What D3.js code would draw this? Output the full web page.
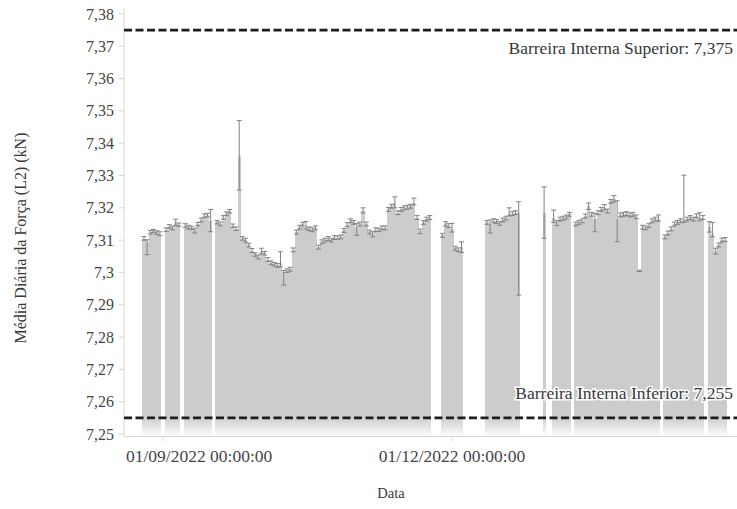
<!DOCTYPE html>
<html>
<head>
<meta charset="utf-8">
<script src="https://cdn.jsdelivr.net/npm/d3@7"></script>
<style>
  body { margin: 0; background: #fff; }
  svg { display: block; }
  text { font-family: "Liberation Serif", "Times New Roman", serif; }
</style>
</head>
<body>
<svg id="chart" width="737" height="509"></svg>
<script>
// Daily mean of the L2 force, with the daily low/high of each day (null = no data)
const firstDay = "2022-08-26";

const means = [
  7.3105, 7.3095, 7.3125, 7.3128, 7.3124, 7.3120, null,   7.3132, 7.3142, 7.3138,
  7.3152, 7.3148, null,   7.3145, 7.3140, 7.3138, 7.3130, 7.3150, 7.3162, 7.3175,
  7.3178, 7.3160, null,   7.3155, 7.3150, 7.3170, 7.3182, 7.3190, 7.3145, 7.3135,
  7.3360, 7.3105, 7.3100, 7.3085, 7.3068, 7.3056, 7.3048, 7.3065, 7.3060, 7.3040,
  7.3030, 7.3025, 7.3022, 7.3030, 7.3000, 7.3005, 7.3010, 7.3070, 7.3125, 7.3140,
  7.3150, 7.3140, 7.3135, 7.3132, 7.3138, 7.3078, 7.3095, 7.3100, 7.3105, 7.3100,
  7.3108, 7.3108, 7.3110, 7.3130, 7.3148, 7.3160, 7.3155, 7.3140, 7.3150, 7.3190,
  7.3150, 7.3125, 7.3120, 7.3132, 7.3132, 7.3138, 7.3138, 7.3195, 7.3205, 7.3215,
  7.3185, 7.3195, 7.3200, 7.3202, 7.3205, 7.3215, 7.3170, 7.3128, 7.3155, 7.3165,
  7.3170, null,   null,   null,   7.3115, 7.3150, 7.3145, 7.3135, 7.3075, 7.3070,
  7.3078, null,   null,   null,   null,   null,   null,   null,   7.3155, 7.3150,
  7.3160, 7.3158, 7.3152, 7.3162, 7.3168, 7.3185, 7.3182, 7.3185, 7.3185, null,
  null,   null,   null,   null,   null,   null,   7.3185, null,   null,   7.3170,
  7.3155, 7.3165, 7.3168, 7.3172, 7.3180, null,   7.3150, 7.3155, 7.3160, 7.3175,
  7.3205, 7.3180, 7.3165, 7.3185, 7.3195, 7.3200, 7.3190, 7.3220, 7.3228, 7.3165,
  7.3178, 7.3180, 7.3182, 7.3178, 7.3180, 7.3172, 7.3005, 7.3140, 7.3138, 7.3145,
  7.3160, 7.3165, 7.3165, null,   7.3110, 7.3122, 7.3135, 7.3150, 7.3155, 7.3160,
  7.3162, 7.3165, 7.3170, 7.3165, 7.3175, 7.3168, 7.3170, null,   7.3140, 7.3120,
  7.3065, 7.3085, 7.3100, 7.3102
];

const lows = [
  7.3100, 7.3055, 7.3119, 7.3123, 7.3118, 7.3114, null,   7.3127, 7.3137, 7.3132,
  7.3146, 7.3143, null,   7.3140, 7.3134, 7.3133, 7.3122, 7.3144, 7.3156, 7.3170,
  7.3172, 7.3126, null,   7.3150, 7.3144, 7.3165, 7.3176, 7.3184, 7.3139, 7.3130,
  7.3255, 7.3100, 7.3094, 7.3079, 7.3062, 7.3050, 7.3042, 7.3058, 7.3054, 7.3034,
  7.3024, 7.3020, 7.3016, 7.3017, 7.2961, 7.3000, 7.3004, 7.3064, 7.3119, 7.3134,
  7.3144, 7.3134, 7.3129, 7.3126, 7.3132, 7.3072, 7.3089, 7.3094, 7.3099, 7.3094,
  7.3102, 7.3103, 7.3104, 7.3124, 7.3142, 7.3154, 7.3149, 7.3115, 7.3144, 7.3184,
  7.3144, 7.3119, 7.3110, 7.3126, 7.3127, 7.3132, 7.3132, 7.3189, 7.3199, 7.3200,
  7.3179, 7.3189, 7.3194, 7.3196, 7.3199, 7.3209, 7.3164, 7.3120, 7.3149, 7.3159,
  7.3164, null,   null,   null,   7.3109, 7.3144, 7.3139, 7.3125, 7.3069, 7.3064,
  7.3062, null,   null,   null,   null,   null,   null,   null,   7.3149, 7.3122,
  7.3154, 7.3152, 7.3146, 7.3156, 7.3162, 7.3175, 7.3176, 7.3179, 7.2930, null,
  null,   null,   null,   null,   null,   null,   7.3106, null,   null,   7.3155,
  7.3145, 7.3159, 7.3162, 7.3166, 7.3174, null,   7.3144, 7.3149, 7.3154, 7.3169,
  7.3195, 7.3174, 7.3126, 7.3179, 7.3189, 7.3194, 7.3184, 7.3214, 7.3218, 7.3095,
  7.3172, 7.3174, 7.3176, 7.3172, 7.3174, 7.3166, 7.3003, 7.3134, 7.3132, 7.3139,
  7.3154, 7.3159, 7.3159, null,   7.3104, 7.3116, 7.3129, 7.3144, 7.3149, 7.3154,
  7.3155, 7.3159, 7.3164, 7.3159, 7.3169, 7.3160, 7.3164, null,   7.3125, 7.3110,
  7.3057, 7.3079, 7.3094, 7.3096
];

const highs = [
  7.3111, 7.3101, 7.3130, 7.3133, 7.3129, 7.3126, null,   7.3138, 7.3148, 7.3143,
  7.3165, 7.3153, null,   7.3151, 7.3146, 7.3143, 7.3137, 7.3155, 7.3168, 7.3181,
  7.3183, 7.3195, null,   7.3161, 7.3156, 7.3176, 7.3187, 7.3195, 7.3150, 7.3141,
  7.3470, 7.3111, 7.3106, 7.3090, 7.3074, 7.3061, 7.3054, 7.3075, 7.3065, 7.3046,
  7.3036, 7.3031, 7.3028, 7.3064, 7.3006, 7.3011, 7.3016, 7.3076, 7.3131, 7.3146,
  7.3155, 7.3158, 7.3141, 7.3138, 7.3144, 7.3084, 7.3101, 7.3106, 7.3111, 7.3106,
  7.3114, 7.3113, 7.3116, 7.3136, 7.3154, 7.3166, 7.3161, 7.3152, 7.3156, 7.3200,
  7.3156, 7.3131, 7.3126, 7.3138, 7.3137, 7.3144, 7.3144, 7.3201, 7.3211, 7.3234,
  7.3191, 7.3201, 7.3206, 7.3208, 7.3211, 7.3230, 7.3176, 7.3134, 7.3161, 7.3171,
  7.3176, null,   null,   null,   7.3121, 7.3157, 7.3151, 7.3152, 7.3081, 7.3076,
  7.3095, null,   null,   null,   null,   null,   null,   null,   7.3161, 7.3162,
  7.3166, 7.3164, 7.3158, 7.3168, 7.3174, 7.3200, 7.3188, 7.3191, 7.3219, null,
  null,   null,   null,   null,   null,   null,   7.3265, null,   null,   7.3193,
  7.3161, 7.3171, 7.3174, 7.3178, 7.3186, null,   7.3156, 7.3161, 7.3166, 7.3181,
  7.3215, 7.3186, 7.3183, 7.3191, 7.3201, 7.3210, 7.3196, 7.3226, 7.3238, 7.3222,
  7.3184, 7.3186, 7.3188, 7.3184, 7.3186, 7.3178, 7.3007, 7.3146, 7.3144, 7.3151,
  7.3166, 7.3171, 7.3178, null,   7.3116, 7.3128, 7.3141, 7.3156, 7.3161, 7.3166,
  7.3301, 7.3171, 7.3176, 7.3171, 7.3181, 7.3185, 7.3176, null,   7.3157, 7.3155,
  7.3075, 7.3091, 7.3106, 7.3108
];

const yTicks = [7.25, 7.26, 7.27, 7.28, 7.29, 7.30, 7.31, 7.32, 7.33, 7.34, 7.35, 7.36, 7.37, 7.38];
const xTicks = ["2022-09-01", "2022-12-01"];
const barrierNames = ["Barreira Interna Superior", "Barreira Interna Inferior"];
const barrierValues = [7.375, 7.255];

const plotLeft = 124, plotRight = 737, plotTop = 12, plotBottom = 436;
const serif = "'Liberation Serif', 'Times New Roman', serif";

const svg = d3.select("#chart");
const ptBR = d3.formatLocale({ decimal: ",", thousands: ".", grouping: [3], currency: ["R$", ""] });
const fmtTick = ptBR.format(".2~f");
const fmtBarrier = ptBR.format(".3~f");
const fmtDate = d3.utcFormat("%d/%m/%Y %H:%M:%S");
const parseDay = d3.utcParse("%Y-%m-%d");

const day0 = parseDay(firstDay);
const rows = means.map((m, i) => ({
  date: d3.utcDay.offset(day0, i),
  mean: m, low: lows[i], high: highs[i]
})).filter(d => d.mean != null);

const x = d3.scaleUtc()
  .domain([new Date(Date.UTC(2022, 7, 19, 17, 15)), new Date(Date.UTC(2023, 1, 28, 17, 45))])
  .range([plotLeft, plotRight]);
const y = d3.scaleLinear().domain([7.2494, 7.3806]).range([plotBottom, plotTop]);

const dayW = x(d3.utcDay.offset(day0, 1)) - x(day0);

// fading gradient at the foot of the bars
const defs = svg.append("defs");
const grad = defs.append("linearGradient").attr("id", "fade")
  .attr("x1", 0).attr("y1", 0).attr("x2", 0).attr("y2", 1);
grad.append("stop").attr("offset", "0%").attr("stop-color", "#fff").attr("stop-opacity", 0);
grad.append("stop").attr("offset", "100%").attr("stop-color", "#fff").attr("stop-opacity", 0.95);

// y axis line
svg.append("line").attr("x1", plotLeft).attr("x2", plotLeft).attr("y1", plotTop - 4).attr("y2", plotBottom)
  .attr("stroke", "#d6d6d6").attr("stroke-width", 1);

// bars
svg.append("g").selectAll("rect").data(rows).join("rect")
  .attr("x", d => x(d.date) - dayW / 2)
  .attr("width", dayW)
  .attr("y", d => y(d.mean))
  .attr("height", d => plotBottom - y(d.mean))
  .attr("fill", "#cccccc")
  .attr("shape-rendering", "crispEdges");

// foot fade
svg.append("rect").attr("x", plotLeft + 1).attr("width", plotRight - plotLeft)
  .attr("y", y(7.2554)).attr("height", plotBottom - y(7.2554))
  .attr("fill", "url(#fade)");

// error bars
const cap = 2.5;
svg.append("g").selectAll("path").data(rows).join("path")
  .attr("d", d => {
    const cx = x(d.date), y1 = y(d.high), y2 = y(d.low);
    return `M${cx - cap},${y1}H${cx + cap}M${cx},${y1}V${y2}M${cx - cap},${y2}H${cx + cap}`;
  })
  .attr("fill", "none")
  .attr("stroke", "#838383")
  .attr("stroke-width", 1);

// x axis line
svg.append("line").attr("x1", plotLeft).attr("x2", plotRight)
  .attr("y1", plotBottom + 0.5).attr("y2", plotBottom + 0.5)
  .attr("stroke", "#d6d6d6");

// y ticks
const yg = svg.append("g");
yTicks.forEach(v => {
  yg.append("line").attr("x1", plotLeft - 5).attr("x2", plotLeft).attr("y1", y(v)).attr("y2", y(v))
    .attr("stroke", "#d6d6d6");
  yg.append("text").attr("x", plotLeft - 10).attr("y", y(v)).attr("dy", "0.35em")
    .attr("font-family", serif)
    .attr("text-anchor", "end").attr("font-size", 16).attr("fill", "#454545")
    .text(fmtTick(v));
});

// x ticks
const xg = svg.append("g");
xTicks.forEach(s => {
  const dt = parseDay(s), px = x(dt);
  xg.append("line").attr("x1", px).attr("x2", px).attr("y1", plotBottom).attr("y2", plotBottom + 5)
    .attr("stroke", "#d6d6d6");
  const t = xg.append("text").attr("y", plotBottom + 26).attr("font-size", 17.5).attr("fill", "#454545")
    .attr("font-family", serif)
    .attr("text-anchor", "start").text(fmtDate(dt));
  const w = t.node().getComputedTextLength();
  t.attr("x", Math.max(plotLeft + 2, px - w / 2));
});

// barrier lines and labels
barrierValues.forEach((v, i) => {
  svg.append("line").attr("x1", plotLeft).attr("x2", plotRight).attr("y1", y(v)).attr("y2", y(v))
    .attr("stroke", "#1e1e1e").attr("stroke-width", 2.6).attr("stroke-dasharray", "8,3.5");
  svg.append("text")
    .attr("x", plotRight - 4)
    .attr("y", i === 0 ? y(v) + 24 : y(v) - 19)
    .attr("font-family", serif)
    .attr("text-anchor", "end").attr("font-size", 17.5).attr("fill", "#383838")
    .attr("stroke", "#fff").attr("stroke-width", 3).attr("paint-order", "stroke")
    .text(`${barrierNames[i]}: ${fmtBarrier(v)}`);
});

// axis titles
svg.append("text").attr("x", 391).attr("y", 498).attr("text-anchor", "middle")
  .attr("font-family", serif)
  .attr("font-size", 14.5).attr("fill", "#383838").text("Data");
svg.append("text").attr("transform", "translate(26,238) rotate(-90)")
  .attr("font-family", serif)
  .attr("text-anchor", "middle").attr("font-size", 16).attr("fill", "#383838")
  .text("Média Diária da Força (L2) (kN)");
</script>
</body>
</html>
